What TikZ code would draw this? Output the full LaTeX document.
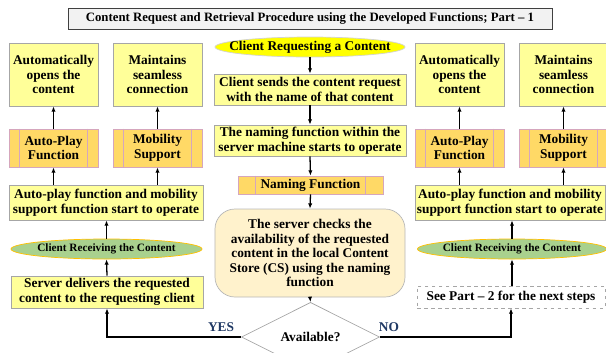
\documentclass[tikz,border=0pt]{standalone}
\usepackage{fontspec}
\setmainfont{Liberation Serif}
\usetikzlibrary{arrows.meta, shapes.geometric}

\definecolor{boxYellow}{HTML}{FFFF99}
\definecolor{boxLine}{HTML}{A6A6A6}
\definecolor{procFill}{HTML}{FFD966}
\definecolor{procLine}{HTML}{D5A6BD}
\definecolor{reqFill}{HTML}{FFFF00}
\definecolor{recvFill}{HTML}{A9D18E}
\definecolor{recvLine}{HTML}{FFC000}
\definecolor{checkFill}{HTML}{FFF2CC}
\definecolor{titleFill}{HTML}{F2F2F2}
\definecolor{titleLine}{HTML}{404040}
\definecolor{answer}{HTML}{1F3864}

\begin{document}
\begin{tikzpicture}[x=0.03cm, y=-0.03cm,
    every node/.style={font=\bfseries\fontsize{11.4}{12.4}\selectfont, align=center, inner sep=1pt},
    infobox/.style={rectangle, draw=boxLine, fill=boxYellow, line width=0.6pt},
    procbox/.style={rectangle, draw=procLine, fill=procFill, line width=0.6pt},
    procline/.style={draw=procLine, line width=0.6pt},
    recvshape/.style={ellipse, draw=recvLine, fill=recvFill, line width=0.6pt, inner xsep=-0.4cm, inner ysep=0pt, minimum height=0.6cm, font=\bfseries\fontsize{9.6}{11}\selectfont},
    arr/.style={-{Latex[length=1.6mm, width=1.3mm]}, line width=1.1pt}]
    % Page frame of the reference
    \useasboundingbox (0,0) rectangle (606,352);
    \clip (0,0) rectangle (606,352);

    % Title
    \node[draw=titleLine, fill=titleFill, line width=0.8pt, minimum width=14.52cm, minimum height=0.63cm, font=\bfseries\fontsize{10.9}{12}\selectfont] (title) at (310,18.5)
        {Content Request and Retrieval Procedure using the Developed Functions; Part -- 1};

    % Centre column
    \node[ellipse, draw=boxLine!50, fill=reqFill, line width=0.6pt, minimum width=5.7cm, minimum height=0.6cm, inner xsep=-0.6cm, inner ysep=0pt] (req) at (310,47) {Client Requesting a Content};
    \node[infobox, minimum width=5.76cm, minimum height=0.93cm] (send) at (310,89.5)
        {Client sends the content request\\with the name of that content};
    \node[infobox, minimum width=5.76cm, minimum height=0.93cm] (nameop) at (310,140.5)
        {The naming function within the\\server machine starts to operate};
    \node[procbox, minimum width=4.35cm, minimum height=0.54cm] (namefn) at (310.5,185) {Naming Function};
    \node[rectangle, rounded corners=0.6cm, draw=boxLine!80, fill=checkFill, line width=0.6pt, minimum width=5.7cm, minimum height=2.64cm] (check) at (310,253)
        {The server checks the\\availability of the requested\\content in the local Content\\Store (CS) using the naming\\function};
    \node[diamond, draw=boxLine, fill=white, line width=0.6pt, minimum width=4.14cm, minimum height=1.5cm, inner sep=0pt] (avail) at (310.5,337) {Available?};

    % Left column (content found)
    \node[infobox, minimum width=2.67cm, minimum height=1.89cm] (open1) at (53.5,74.5) {Automatically\\opens the\\content};
    \node[infobox, minimum width=2.67cm, minimum height=1.89cm] (seam1) at (157.5,74.5) {Maintains\\seamless\\connection};
    \node[procbox, minimum width=2.67cm, minimum height=1.14cm] (play1) at (53.5,148) {Auto-Play\\Function};
    \node[procbox, minimum width=2.67cm, minimum height=1.14cm] (mob1) at (157.5,148) {Mobility\\Support};
    \node[infobox, minimum width=5.82cm, minimum height=1.05cm] (start1) at (106,202.5)
        {Auto-play function and mobility\\support function start to operate};
    \node[recvshape, minimum width=5.73cm] (recv1) at (106.5,249) {Client Receiving the Content};
    \node[infobox, minimum width=5.76cm, minimum height=0.96cm] (deliver) at (107,292)
        {Server delivers the requested\\content to the requesting client};

    % Right column (content not found)
    \node[infobox, minimum width=2.67cm, minimum height=1.89cm] (open2) at (459.5,74.5) {Automatically\\opens the\\content};
    \node[infobox, minimum width=2.67cm, minimum height=1.89cm] (seam2) at (563.5,74.5) {Maintains\\seamless\\connection};
    \node[procbox, minimum width=2.67cm, minimum height=1.14cm] (play2) at (459.5,148) {Auto-Play\\Function};
    \node[procbox, minimum width=2.67cm, minimum height=1.14cm] (mob2) at (563.5,148) {Mobility\\Support};
    \node[infobox, minimum width=5.7cm, minimum height=1.05cm] (start2) at (510,202.5)
        {Auto-play function and mobility\\support function start to operate};
    \node[recvshape, minimum width=5.67cm] (recv2) at (512,249) {Client Receiving the Content};
    \node[rectangle, draw=boxLine, dashed, line width=0.6pt, minimum width=5.64cm, minimum height=0.66cm] (next) at (511,297)
        {See Part -- 2 for the next steps};

    % Side bars of the predefined-process boxes
    \foreach \n in {play1, mob1, play2, mob2} {
        \draw[procline] ([xshift=3.3mm]\n.north west) -- ([xshift=3.3mm]\n.south west);
        \draw[procline] ([xshift=-3.3mm]\n.north east) -- ([xshift=-3.3mm]\n.south east);
    }
    \draw[procline] ([xshift=5.4mm]namefn.north west) -- ([xshift=5.4mm]namefn.south west);
    \draw[procline] ([xshift=-5.4mm]namefn.north east) -- ([xshift=-5.4mm]namefn.south east);

    % Centre flow
    \draw[arr] (req.south) -- (send.north);
    \draw[arr] (send.south) -- (nameop.north);
    \draw[arr] (nameop.south) -- (namefn.north);
    \draw[arr] (namefn.south) -- (check.north);
    \draw[arr] (check.south) -- (avail.north);

    % Decision branches
    \draw[arr] (avail.west) -| (deliver.south);
    \draw[arr] (avail.east) -| (next.south);
    \node[text=answer] (yes) at (221,327) {YES};
    \node[text=answer] (no) at (389,327) {NO};

    % Left flow
    \draw[arr] (deliver.north) -- (recv1.south);
    \draw[arr] (recv1.north) -- (recv1.north |- start1.south);
    \draw[arr] (start1.north -| play1) -- (play1.south);
    \draw[arr] (start1.north -| mob1) -- (mob1.south);
    \draw[arr] (play1.north) -- (open1.south);
    \draw[arr] (mob1.north) -- (seam1.south);

    % Right flow
    \draw[arr] (next.north -| recv2) -- (recv2.south);
    \draw[arr] (recv2.north) -- (recv2.north |- start2.south);
    \draw[arr] (start2.north -| play2) -- (play2.south);
    \draw[arr] (start2.north -| mob2) -- (mob2.south);
    \draw[arr] (play2.north) -- (open2.south);
    \draw[arr] (mob2.north) -- (seam2.south);
\end{tikzpicture}
\end{document}
